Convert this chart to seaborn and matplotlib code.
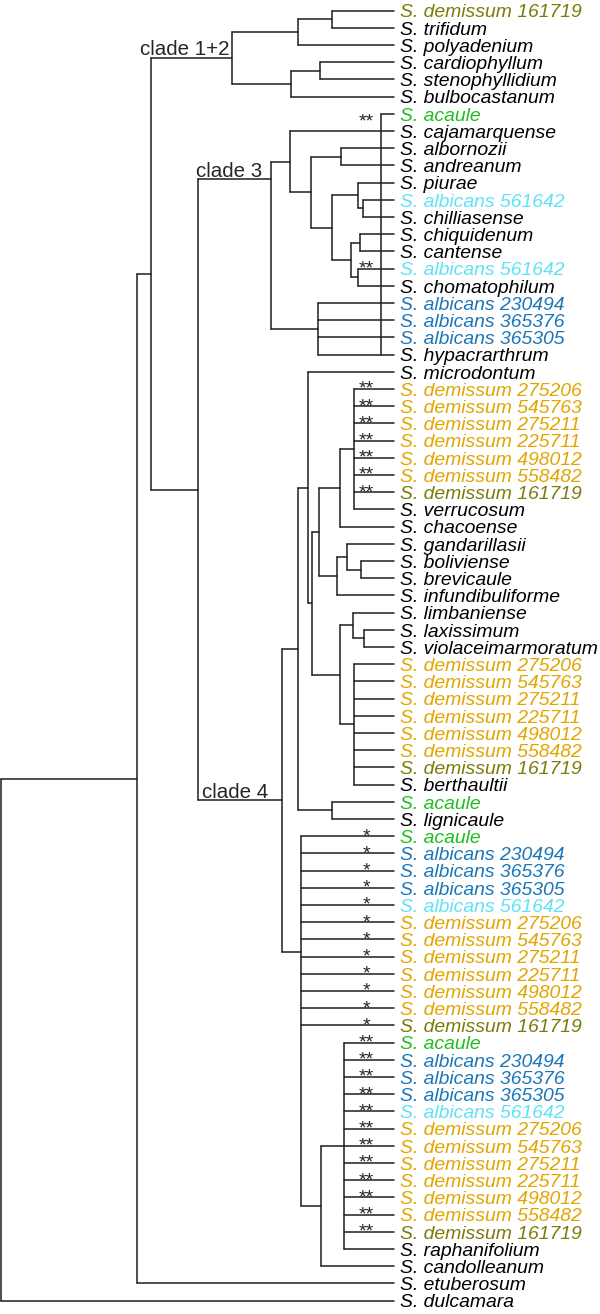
import pandas as pd
import matplotlib
matplotlib.use('Agg')
import matplotlib.pyplot as plt
import seaborn as sns

# leaf labels, top to bottom
leaf_names = [
    'S. demissum 161719', 'S. trifidum', 'S. polyadenium', 'S. cardiophyllum',
    'S. stenophyllidium', 'S. bulbocastanum', 'S. acaule', 'S. cajamarquense',
    'S. albornozii', 'S. andreanum', 'S. piurae', 'S. albicans 561642',
    'S. chilliasense', 'S. chiquidenum', 'S. cantense', 'S. albicans 561642',
    'S. chomatophilum', 'S. albicans 230494', 'S. albicans 365376',
    'S. albicans 365305', 'S. hypacrarthrum', 'S. microdontum',
    'S. demissum 275206', 'S. demissum 545763', 'S. demissum 275211',
    'S. demissum 225711', 'S. demissum 498012', 'S. demissum 558482',
    'S. demissum 161719', 'S. verrucosum', 'S. chacoense', 'S. gandarillasii',
    'S. boliviense', 'S. brevicaule', 'S. infundibuliforme', 'S. limbaniense',
    'S. laxissimum', 'S. violaceimarmoratum',
    'S. demissum 275206', 'S. demissum 545763', 'S. demissum 275211',
    'S. demissum 225711', 'S. demissum 498012', 'S. demissum 558482',
    'S. demissum 161719', 'S. berthaultii', 'S. acaule', 'S. lignicaule',
    'S. acaule', 'S. albicans 230494', 'S. albicans 365376', 'S. albicans 365305',
    'S. albicans 561642', 'S. demissum 275206', 'S. demissum 545763',
    'S. demissum 275211', 'S. demissum 225711', 'S. demissum 498012',
    'S. demissum 558482', 'S. demissum 161719',
    'S. acaule', 'S. albicans 230494', 'S. albicans 365376', 'S. albicans 365305',
    'S. albicans 561642', 'S. demissum 275206', 'S. demissum 545763',
    'S. demissum 275211', 'S. demissum 225711', 'S. demissum 498012',
    'S. demissum 558482', 'S. demissum 161719', 'S. raphanifolium',
    'S. candolleanum', 'S. etuberosum', 'S. dulcamara',
]

# colour group of each leaf
leaf_groups = (
    ['olive'] + ['k'] * 5 + ['green'] + ['k'] * 4 + ['cyan'] + ['k'] * 3
    + ['cyan', 'k'] + ['blue'] * 3 + ['k', 'k'] + ['orange'] * 6 + ['olive']
    + ['k'] * 9 + ['orange'] * 6 + ['olive', 'k', 'green', 'k']
    + ['green'] + ['blue'] * 3 + ['cyan'] + ['orange'] * 6 + ['olive']
    + ['green'] + ['blue'] * 3 + ['cyan'] + ['orange'] * 6 + ['olive']
    + ['k'] * 4
)

palette = {'k': '#000000', 'olive': '#7b7b0a', 'orange': '#e2a500',
           'blue': '#1b76b8', 'cyan': '#5fe2f6', 'green': '#20bd20'}

# internal nodes: depth, children (leaf index or node name)
nodes = {
    'root': (1.0, ['A', 75]),
    'A': (136.9, ['B', 74]),
    'B': (151.1, ['D', 'C']),
    'D': (232.1, ['E', 'F']),
    'E': (297.5, ['G', 2]),
    'G': (331.9, [0, 1]),
    'F': (290.6, ['H', 5]),
    'H': (319.7, [3, 4]),
    'C': (198.1, ['I', 'J']),
    'I': (270.5, ['K', 'L']),
    'K': (289.6, [7, 'M']),
    'M': (311.0, ['N', 'O']),
    'N': (340.5, [8, 9]),
    'O': (332.0, ['P', 'R']),
    'P': (358.3, [10, 'Q']),
    'Q': (362.5, [11, 12]),
    'R': (351.0, ['S', 'T']),
    'S': (359.5, [13, 14]),
    'T': (358.3, [15, 16]),
    'L': (318.3, [17, 18, 19, 20]),
    'J': (281.7, ['U', 'BB']),
    'U': (297.7, ['W', 'V']),
    'W': (307.7, [21, 'Y2']),
    'Y2': (311.7, ['Y', 'AA']),
    'Y': (319.0, ['X', 'Z']),
    'X': (340.0, ['DM1', 30]),
    'DM1': (353.7, [22, 23, 24, 25, 26, 27, 28, 29]),
    'Z': (336.6, ['Z1', 34]),
    'Z1': (347.2, [31, 'Z2']),
    'Z2': (360.6, [32, 33]),
    'AA': (340.0, ['LB', 'DM2']),
    'LB': (352.5, [35, 'LB2']),
    'LB2': (364.0, [36, 37]),
    'DM2': (353.7, [38, 39, 40, 41, 42, 43, 44, 45]),
    'V': (332.3, [46, 47]),
    'BB': (301.3, [48, 49, 50, 51, 52, 53, 54, 55, 56, 57, 58, 59, 'CC']),
    'CC': (321.0, ['DD', 73]),
    'DD': (344.0, [60, 61, 62, 63, 64, 65, 66, 67, 68, 69, 70, 71, 72]),
}
node_y_fixed = {'I': 179.3}   # clade 3 stem is not centred in the figure

tip_depth = 394.0
# S. acaule (clade 3) hangs from a long bracket down to S. hypacrarthrum
bracket_leaf, bracket_end, bracket_depth = 6, 20, 380.5

# support marks
star_double = [6, 15, 22, 23, 24, 25, 26, 27, 28,
               60, 61, 62, 63, 64, 65, 66, 67, 68, 69, 70, 71]
star_single = [48, 49, 50, 51, 52, 53, 54, 55, 56, 57, 58, 59]

clade_names = ['clade 1+2', 'clade 3', 'clade 4']
clade_nodes = ['D', 'I', 'J']
clade_right = [229.5, 262.5, 268.0]

# layout ------------------------------------------------------------
top, step = 10.5, 17.2
leaf_y = [top + step * i for i in range(len(leaf_names))]
node_y = {}


def get_y(c):
    if isinstance(c, int):
        return leaf_y[c]
    if c in node_y:
        return node_y[c]
    kids = nodes[c][1]
    y = node_y_fixed.get(c, sum(get_y(k) for k in kids) / len(kids))
    node_y[c] = y
    return y


def get_x(c):
    return tip_depth if isinstance(c, int) else nodes[c][0]


get_y('root')
rows = []
seg = 0
for name, (depth, kids) in nodes.items():
    ys = [get_y(k) for k in kids]
    rows += [(seg, depth, min(ys)), (seg, depth, max(ys))]
    seg += 1
    for k in kids:
        rows += [(seg, depth, get_y(k)), (seg, get_x(k), get_y(k))]
        seg += 1
rows += [(seg, bracket_depth, leaf_y[bracket_leaf]), (seg, bracket_depth, leaf_y[bracket_end])]
seg += 1
rows += [(seg, bracket_depth, leaf_y[bracket_leaf]), (seg, tip_depth, leaf_y[bracket_leaf])]
seg_df = pd.DataFrame(rows, columns=['seg', 'x', 'y'])

sns.set_theme(style='white')
plt.rcParams['font.family'] = ['Liberation Sans', 'DejaVu Sans']

fig = plt.figure(figsize=(6, 13.14), dpi=100)
ax = fig.add_axes([0, 0, 1, 1])
sns.lineplot(data=seg_df, x='x', y='y', units='seg', estimator=None, sort=False,
             color='#1e1e1e', linewidth=1.1, legend=False, ax=ax)

for i, name in enumerate(leaf_names):
    ax.text(tip_depth + 6.0, leaf_y[i] + 6.9, name, style='italic', fontsize=13.95,
            color=palette[leaf_groups[i]], ha='left', va='baseline')

for i in star_double:
    off = 12.5 if i == bracket_leaf else 5.0
    ax.text(366.6, leaf_y[i] + off, '**', fontsize=14, ha='center', va='baseline')
for i in star_single:
    ax.text(366.3, leaf_y[i] + 5.0, '*', fontsize=14, ha='center', va='baseline')

for lab, nd, xr in zip(clade_names, clade_nodes, clade_right):
    ax.text(xr, node_y[nd] - 2.5, lab, fontsize=14.8, ha='right', va='baseline')

ax.set_xlim(0, 600)
ax.set_ylim(1314, 0)
ax.axis('off')
fig.savefig('out.png', dpi=100)
